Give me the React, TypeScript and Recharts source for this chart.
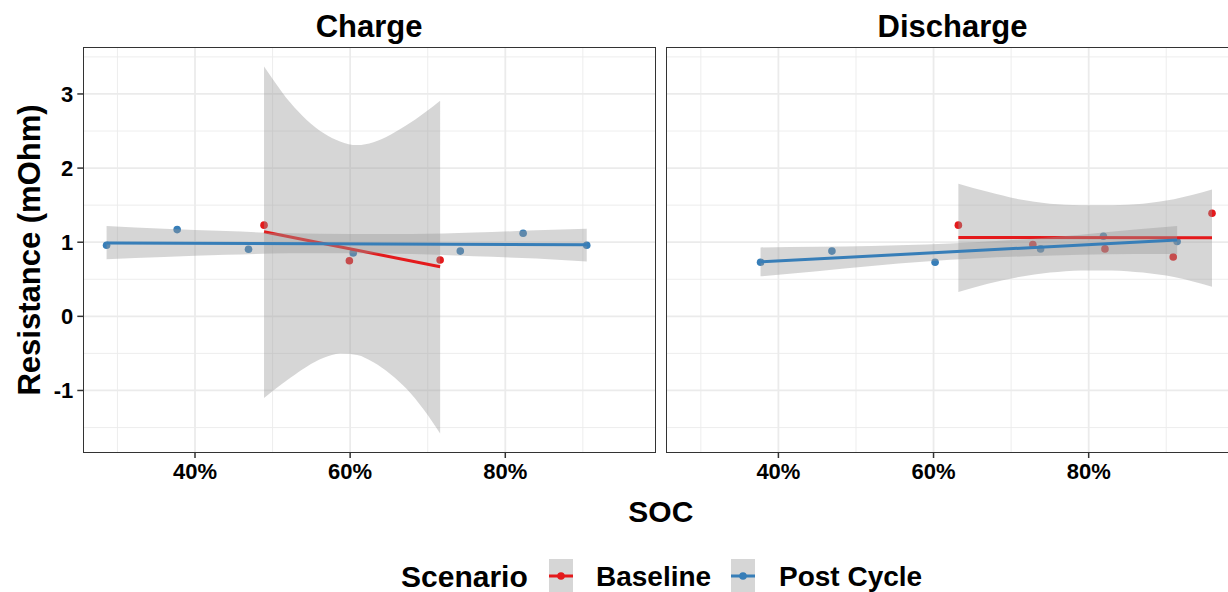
import React from 'react';
import { Area, CartesianGrid, ComposedChart, Line, Scatter, XAxis, YAxis } from 'recharts';

// axis setup
const socTicks = [40, 60, 80];
const socMinorTicks = [30, 50, 70, 90];
const resTicks = [-1, 0, 1, 2, 3];
const resMinorTicks = [-1.5, -0.5, 0.5, 1.5, 2.5, 3.5];
const socDomain: [number, number] = [25.6, 99.3];
const resDomain: [number, number] = [-1.83, 3.62];

// Charge - measured points
const chargeBaseSoc = [48.9, 59.9, 71.6];
const chargeBaseRes = [1.23, 0.75, 0.76];
const chargePostSoc = [28.6, 37.7, 46.9, 60.4, 74.2, 82.3, 90.5];
const chargePostRes = [0.96, 1.17, 0.905, 0.856, 0.88, 1.12, 0.96];

// Charge - linear fits and confidence bands
const chargeBaseFitSoc = [48.9, 71.6];
const chargeBaseFitRes = [1.14, 0.67];
const chargeBaseBandSoc = [48.9, 50.1, 52.3, 54.4, 56.6, 58.7, 60.9, 63.0, 65.2, 67.3, 69.5, 71.6];
const chargeBaseBandLow = [-1.1, -1.0, -0.83, -0.68, -0.56, -0.5, -0.52, -0.62, -0.78, -0.98, -1.26, -1.58];
const chargeBaseBandHigh = [3.37, 3.19, 2.88, 2.65, 2.47, 2.36, 2.31, 2.35, 2.45, 2.58, 2.74, 2.91];

const chargePostFitSoc = [28.6, 90.5];
const chargePostFitRes = [0.99, 0.965];
const chargePostBandSoc = [28.6, 36, 44, 52, 60.1, 68, 76, 84, 90.5];
const chargePostBandLow = [0.77, 0.8, 0.83, 0.85, 0.85, 0.84, 0.81, 0.78, 0.74];
const chargePostBandHigh = [1.22, 1.18, 1.15, 1.12, 1.11, 1.11, 1.13, 1.16, 1.18];

// Discharge - measured points
const dischargeBaseSoc = [63.2, 72.8, 82.1, 90.9, 95.9];
const dischargeBaseRes = [1.23, 0.97, 0.91, 0.8, 1.39];
const dischargePostSoc = [37.7, 46.9, 60.2, 73.8, 81.9, 91.4];
const dischargePostRes = [0.73, 0.88, 0.73, 0.91, 1.08, 1.01];

// Discharge - linear fits and confidence bands
const dischargeBaseFitSoc = [63.2, 95.9];
const dischargeBaseFitRes = [1.065, 1.06];
const dischargeBaseBandSoc = [63.2, 67, 71, 75, 79, 83, 87, 91, 95.9];
const dischargeBaseBandLow = [0.33, 0.44, 0.53, 0.59, 0.62, 0.62, 0.59, 0.53, 0.4];
const dischargeBaseBandHigh = [1.79, 1.68, 1.58, 1.52, 1.5, 1.5, 1.52, 1.58, 1.71];

const dischargePostFitSoc = [37.7, 91.4];
const dischargePostFitRes = [0.735, 1.03];
const dischargePostBandSoc = [37.7, 45, 52, 59, 65.3, 72, 79, 86, 91.4];
const dischargePostBandLow = [0.54, 0.61, 0.68, 0.74, 0.78, 0.81, 0.83, 0.84, 0.84];
const dischargePostBandHigh = [0.93, 0.94, 0.95, 0.97, 1.0, 1.04, 1.1, 1.17, 1.22];

const RED = '#E41A1C';
const BLUE = '#377EB8';
const FONT = '"Liberation Sans", Arial, sans-serif';

const PLOT_W = 571.7;
const PLOT_TOP = 48;
const PLOT_H = 404;

type Pt = { soc: number; res: number };
type BandPt = { soc: number; band: [number, number] };

const toPoints = (soc: number[], res: number[]): Pt[] => soc.map((s, i) => ({ soc: s, res: res[i] }));
const toBand = (soc: number[], low: number[], high: number[]): BandPt[] =>
  soc.map((s, i) => ({ soc: s, band: [low[i], high[i]] }));

interface Series {
  points: Pt[];
  fit: Pt[];
  band: BandPt[];
}

const charge = {
  base: {
    points: toPoints(chargeBaseSoc, chargeBaseRes),
    fit: toPoints(chargeBaseFitSoc, chargeBaseFitRes),
    band: toBand(chargeBaseBandSoc, chargeBaseBandLow, chargeBaseBandHigh),
  },
  post: {
    points: toPoints(chargePostSoc, chargePostRes),
    fit: toPoints(chargePostFitSoc, chargePostFitRes),
    band: toBand(chargePostBandSoc, chargePostBandLow, chargePostBandHigh),
  },
};

const discharge = {
  base: {
    points: toPoints(dischargeBaseSoc, dischargeBaseRes),
    fit: toPoints(dischargeBaseFitSoc, dischargeBaseFitRes),
    band: toBand(dischargeBaseBandSoc, dischargeBaseBandLow, dischargeBaseBandHigh),
  },
  post: {
    points: toPoints(dischargePostSoc, dischargePostRes),
    fit: toPoints(dischargePostFitSoc, dischargePostFitRes),
    band: toBand(dischargePostBandSoc, dischargePostBandLow, dischargePostBandHigh),
  },
};

const dot = (color: string) => (props: any) => <circle cx={props.cx} cy={props.cy} r={3.8} fill={color} />;

const tickStyle = { fill: '#000', fontSize: 22, fontWeight: 700, fontFamily: FONT };

function Panel({
  title,
  left,
  marginLeft,
  showY,
  base,
  post,
}: {
  title: string;
  left: number;
  marginLeft: number;
  showY: boolean;
  base: Series;
  post: Series;
}) {
  const plotLeft = left + marginLeft + (showY ? 60 : 0);
  return (
    <>
      <div
        style={{
          position: 'absolute',
          left: plotLeft,
          width: PLOT_W,
          top: 8,
          textAlign: 'center',
          fontFamily: FONT,
          fontWeight: 700,
          fontSize: 31,
          lineHeight: '38px',
        }}
      >
        {title}
      </div>
      <div style={{ position: 'absolute', left, top: 0 }}>
        <ComposedChart
          width={marginLeft + (showY ? 60 : 0) + PLOT_W + 5}
          height={500}
          margin={{ top: PLOT_TOP, right: 5, bottom: 8, left: marginLeft }}
        >
          <CartesianGrid
            stroke="#ebebeb"
            strokeWidth={0.9}
            horizontalValues={resMinorTicks}
            verticalValues={socMinorTicks}
          />
          <CartesianGrid stroke="#ebebeb" strokeWidth={1.8} horizontalValues={resTicks} verticalValues={socTicks} />
          <XAxis
            type="number"
            dataKey="soc"
            domain={socDomain}
            allowDataOverflow
            ticks={socTicks}
            interval={0}
            tickFormatter={(v: number) => `${v}%`}
            axisLine={false}
            tickLine={{ stroke: '#333', strokeWidth: 1.5 }}
            tickSize={6}
            tickMargin={5}
            tick={tickStyle}
            height={40}
          />
          <YAxis
            type="number"
            dataKey="res"
            domain={resDomain}
            allowDataOverflow
            ticks={resTicks}
            interval={0}
            hide={!showY}
            width={60}
            axisLine={false}
            tickLine={{ stroke: '#333', strokeWidth: 1.5 }}
            tickSize={6}
            tickMargin={4}
            tick={tickStyle}
          />
          <Scatter data={base.points} dataKey="res" shape={dot(RED)} isAnimationActive={false} zIndex={100} />
          <Scatter data={post.points} dataKey="res" shape={dot(BLUE)} isAnimationActive={false} zIndex={101} />
          <Area
            data={base.band}
            dataKey="band"
            type="monotone"
            stroke="none"
            fill="#999999"
            fillOpacity={0.4}
            isAnimationActive={false}
            zIndex={102}
          />
          <Line
            data={base.fit}
            dataKey="res"
            type="linear"
            stroke={RED}
            strokeWidth={3}
            dot={false}
            activeDot={false}
            isAnimationActive={false}
            zIndex={103}
          />
          <Area
            data={post.band}
            dataKey="band"
            type="monotone"
            stroke="none"
            fill="#999999"
            fillOpacity={0.4}
            isAnimationActive={false}
            zIndex={104}
          />
          <Line
            data={post.fit}
            dataKey="res"
            type="linear"
            stroke={BLUE}
            strokeWidth={3}
            dot={false}
            activeDot={false}
            isAnimationActive={false}
            zIndex={105}
          />
        </ComposedChart>
      </div>
      <div
        style={{
          position: 'absolute',
          left: plotLeft - 0.75,
          top: PLOT_TOP - 0.75,
          width: PLOT_W + 1.5,
          height: PLOT_H + 1.5,
          border: '1.5px solid #333',
          boxSizing: 'border-box',
          pointerEvents: 'none',
        }}
      />
    </>
  );
}

function LegendKey({ color, left }: { color: string; left: number }) {
  return (
    <svg style={{ position: 'absolute', left, top: 559 }} width={24} height={34}>
      <rect x={0} y={0} width={24} height={34} fill="#d6d6d6" />
      <line x1={0} x2={24} y1={17} y2={17} stroke={color} strokeWidth={3} />
      <circle cx={12} cy={17} r={3.8} fill={color} />
    </svg>
  );
}

export default function App() {
  const text = { position: 'absolute' as const, fontFamily: FONT, fontWeight: 700, color: '#000', whiteSpace: 'nowrap' as const };
  return (
    <div style={{ position: 'absolute', left: 0, top: 0, width: 1228, height: 592, overflow: 'hidden', background: '#fff' }}>
      <Panel title="Charge" left={0} marginLeft={23.3} showY base={charge.base} post={charge.post} />
      <Panel title="Discharge" left={600} marginLeft={66.7} showY={false} base={discharge.base} post={discharge.post} />

      <div style={{ ...text, left: 83.3, width: 1155.1, top: 493, textAlign: 'center', fontSize: 30, lineHeight: '38px' }}>SOC</div>
      <div
        style={{
          ...text,
          left: 30,
          top: 250,
          fontSize: 31,
          lineHeight: '38px',
          transform: 'translate(-50%, -50%) rotate(-90deg)',
        }}
      >
        Resistance (mOhm)
      </div>

      <div style={{ ...text, left: 401, top: 559, fontSize: 30, lineHeight: '36px' }}>Scenario</div>
      <LegendKey color={RED} left={549} />
      <div style={{ ...text, left: 596, top: 560, fontSize: 28, lineHeight: '34px' }}>Baseline</div>
      <LegendKey color={BLUE} left={731} />
      <div style={{ ...text, left: 779, top: 560, fontSize: 28, lineHeight: '34px' }}>Post Cycle</div>
    </div>
  );
}
